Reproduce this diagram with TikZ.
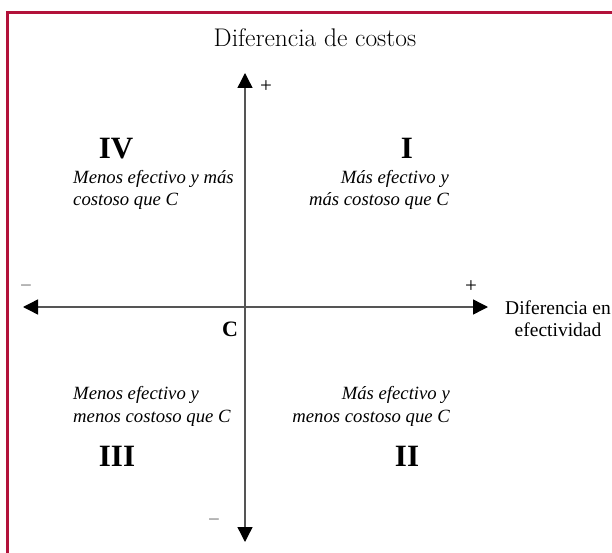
\documentclass[tikz,border=0pt]{standalone}
\usepackage{fontspec}
\newfontfamily\tnr{Liberation Serif}
\usetikzlibrary{arrows.meta}
\definecolor{frame}{RGB}{178,18,58}
\definecolor{axisgray}{RGB}{85,85,85}
\tikzset{
  frameline/.style={draw=frame,line width=3pt},
  axisline/.style={draw=axisgray,line width=1.4pt,{Triangle[length=15pt,width=15pt,fill=black,color=black]}-{Triangle[length=15pt,width=15pt,fill=black,color=black]}},
  titletext/.style={inner sep=0pt,anchor=base,font=\fontsize{25.5}{28}\selectfont},
  desc/.style={inner sep=0pt,font=\tnr\itshape\fontsize{18.7}{22}\selectfont},
  numeral/.style={inner sep=0pt,anchor=base,font=\tnr\bfseries\fontsize{31}{34}\selectfont},
  axlabel/.style={inner sep=0pt,anchor=base,font=\tnr\fontsize{19.5}{22}\selectfont},
  sign/.style={inner sep=0pt,anchor=center,font=\tnr\fontsize{21}{24}\selectfont},
}
\begin{document}
\begin{tikzpicture}[x=1pt,y=-1pt]
\useasboundingbox (0,0) rectangle (612,553);
% frame
\draw[frameline] (7,556) -- (7,13) -- (615,13);
% title
\node[titletext] (title) at (315,46.7) {Diferencia de costos};
% axes
\coordinate (L) at (23,307);
\coordinate (R) at (488,307);
\coordinate (T) at (245,73);
\coordinate (B) at (245,542);
\draw[axisline] (L) -- (R);
\draw[axisline] (B) -- (T);
% signs
\node[sign] (tplus) at (266,87) {+};
\node[sign] (rplus) at (471,287) {+};
\node[sign,text=axisgray!80] (lminus) at (26,289) {−};
\node[sign,text=axisgray!80] (bminus) at (214,523) {−};
% origin
\node[inner sep=0pt,anchor=base,font=\tnr\bfseries\fontsize{22}{26}\selectfont] (C) at (230,336) {C};
% x-axis label
\node[axlabel] (xl1) at (558,314) {Diferencia en};
\node[axlabel] (xl2) at (558,336) {efectividad};
% quadrant numerals
\node[numeral] (IV) at (116,159) {IV};
\node[numeral] (I) at (407,158.5) {I};
\node[numeral] (III) at (117,466.5) {III};
\node[numeral] (II) at (407,466.5) {II};
% quadrant IV text
\node[desc,anchor=base west] (q4a) at (73,183.3) {Menos efectivo y más};
\node[desc,anchor=base west] (q4b) at (73,205.5) {costoso que C};
% quadrant I text
\node[desc,anchor=base east] (q1a) at (449,183.3) {Más efectivo y};
\node[desc,anchor=base east] (q1b) at (449,205.5) {más costoso que C};
% quadrant III text
\node[desc,anchor=base west] (q3a) at (73,399) {Menos efectivo y};
\node[desc,anchor=base west] (q3b) at (73,422) {menos costoso que C};
% quadrant II text
\node[desc,anchor=base east] (q2a) at (450,399) {Más efectivo y};
\node[desc,anchor=base east] (q2b) at (450,422) {menos costoso que C};
\end{tikzpicture}
\end{document}
